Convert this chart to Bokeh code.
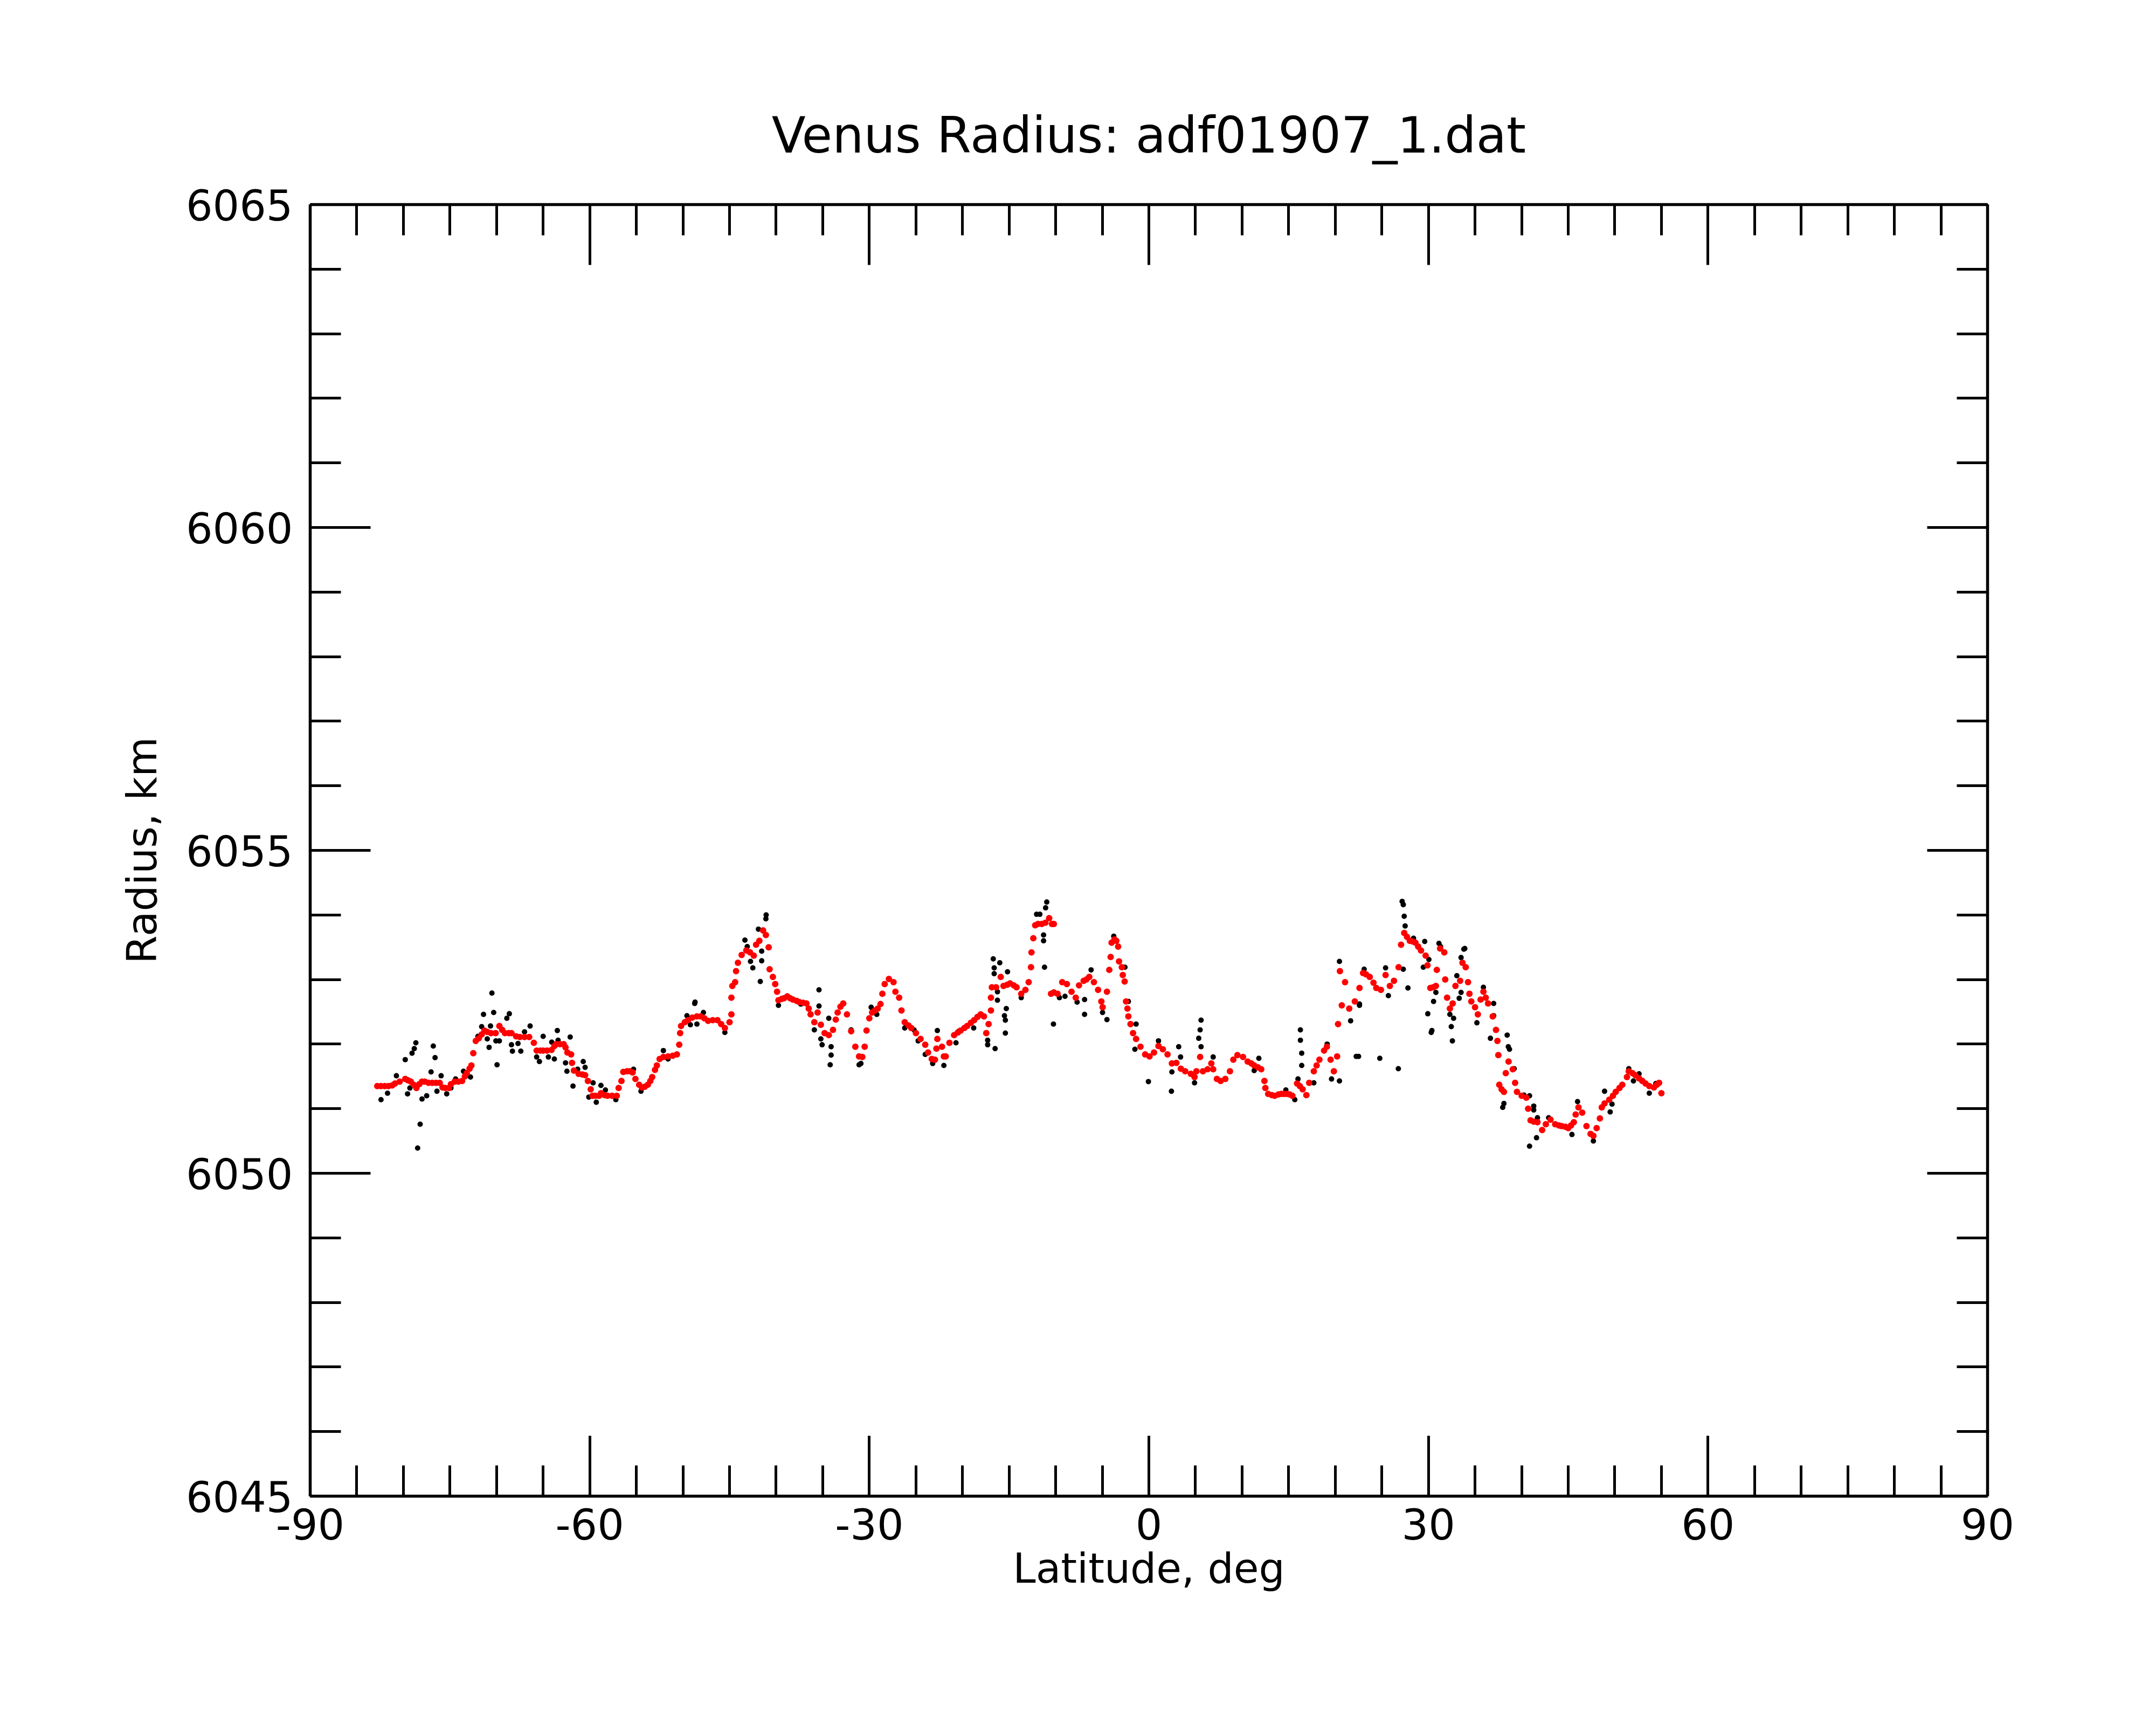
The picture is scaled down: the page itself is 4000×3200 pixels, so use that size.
from bokeh.plotting import figure
from bokeh.models import LinearAxis, Range1d, FixedTicker, PrintfTickFormatter, CustomJSTickFormatter, ColumnDataSource
from bokeh.embed import file_html
from bokeh.resources import INLINE

# ---- data ----
title_text = "Venus Radius: adf01907_1.dat"
x_label = "Latitude, deg"
y_label = "Radius, km"
x_major = [-90, -60, -30, 0, 30, 60, 90]
x_minor = list(range(-90, 91, 5))
y_major = [6045, 6050, 6055, 6060, 6065]
y_minor = list(range(6045, 6066))

# smoothed radius (red)
smooth_lat = [
    -82.8, -82.4, -82.0, -81.6, -81.2, -80.9, -80.4, -79.8, -79.5, -79.2,
    -78.9, -78.6, -78.3, -78.0, -77.7, -77.3, -76.9, -76.5, -76.1, -75.8,
    -75.5, -75.1, -74.9, -74.5, -74.1, -73.7, -73.4, -73.2, -72.9, -72.7,
    -72.5, -72.23, -71.9, -71.6, -71.3, -71.0, -70.6, -70.1, -69.7, -69.4,
    -69.1, -68.7, -68.4, -67.9, -67.5, -67.0, -66.5, -66.0, -65.7, -65.3,
    -65.0, -64.6, -64.1, -63.8, -63.6, -63.2, -62.8, -62.6, -62.4, -62.0,
    -61.9, -61.7, -61.2, -60.8, -60.5, -60.2, -59.9, -59.7, -59.4, -59.0,
    -58.8, -58.4, -58.1, -57.6, -57.1, -56.9, -56.6, -56.4, -56.0, -55.7,
    -55.4, -55.1, -54.7, -54.4, -54.1, -53.77, -53.5, -53.3, -53.0, -52.8,
    -52.5, -52.1, -51.6, -51.1, -50.65, -50.4, -50.3, -50.2, -49.8, -49.45,
    -49.0, -48.5, -48.1, -47.7, -47.3, -46.8, -46.3, -45.9, -45.5, -45.0,
    -44.8, -44.8, -44.7, -44.4, -44.3, -44.1, -43.7, -43.2, -42.8, -42.4,
    -42.15, -41.8, -41.4, -41.1, -40.8, -40.7, -40.35, -40.1, -39.9, -39.75,
    -39.4, -39.15, -38.8, -38.5, -38.2, -37.8, -37.5, -37.1, -36.75, -36.5,
    -36.3, -35.9, -35.55, -35.2, -34.8, -34.35, -33.9, -33.6, -33.4, -33.1,
    -32.8, -32.4, -31.95, -31.5, -31.1, -30.75, -30.5, -30.3, -30.0, -29.7,
    -29.4, -29.1, -28.8, -28.6, -28.35, -27.9, -27.4, -27.2, -26.8, -26.55,
    -26.2, -25.8, -25.5, -25.0, -24.5, -24.0, -23.7, -23.3, -22.96, -22.8,
    -22.7, -22.2, -22.0, -21.8, -21.4, -20.9, -20.5, -20.2, -19.8, -19.5,
    -19.1, -18.75, -18.4, -18.05, -17.7, -17.45, -17.2, -16.95, -16.95, -16.85,
    -16.4, -15.9, -15.6, -15.2, -14.9, -14.5, -14.2, -13.7, -13.25, -12.9,
    -12.65, -12.6, -12.4, -12.2, -11.9, -11.5, -11.1, -10.7, -10.4, -10.2,
    -10.5, -10.2, -9.8, -9.3, -8.8, -8.3, -7.85, -7.5, -7.0, -6.7,
    -6.4, -5.9, -5.45, -5.1, -4.96, -4.5, -4.25, -4.1, -4.0, -3.7,
    -3.5, -3.3, -3.2, -2.9, -2.8, -2.6, -2.45, -2.3, -2.2, -1.97,
    -1.7, -1.37, -0.9, -0.4, 0.07, 0.55, 1.03, 1.5, 2.0, 2.47,
    2.95, 3.43, 3.9, 4.5, 4.9, 5.1, 5.5, 5.8, 6.3, 6.7,
    6.9, 7.3, 7.7, 8.2, 8.7, 9.06, 9.5, 10.1, 10.6, 11.0,
    11.3, 11.7, 12.06, 12.4, 12.5, 12.8, 13.2, 13.5, 13.9, 14.2,
    14.5, 14.8, 15.1, 15.4, 15.9, 16.2, 16.5, 16.9, 17.2, 17.7,
    18.0, 18.3, 18.8, 19.1, 19.5, 19.85, 20.2, 20.3, 20.5, 20.7,
    21.05, 21.5, 22.1, 22.6, 22.98, 23.3, 23.7, 24.1, 24.4, 24.9,
    25.4, 25.86, 26.3, 26.8, 27.06, 27.4, 27.7, 28.0, 28.3, 28.6,
    28.9, 29.2, 29.7, 29.9, 30.2, 30.5, 30.8, 30.9, 31.25, 31.7,
    31.8, 32.0, 32.3, 32.6, 32.9, 33.4, 33.65, 34.0, 34.25, 34.4,
    34.6, 35.0, 35.3, 35.6, 35.9, 36.15, 36.4, 36.9, 37.25, 37.4,
    37.5, 37.6, 37.85, 38.1, 38.3, 38.6, 39.05, 39.3, 39.5, 40.0,
    40.5, 40.7, 40.96, 41.3, 41.7, 42.2, 42.6, 43.1, 43.6, 44.0,
    44.3, 44.7, 45.0, 45.3, 45.6, 45.8, 46.1, 46.5, 46.96, 47.4,
    47.7, 48.05, 48.4, 48.6, 48.9, 49.4, 49.8, 50.1, 50.5, 50.8,
    51.3, 51.5, 51.9, 52.2, 52.6, 52.95, 53.3, 53.7, 54.2, 54.5,
    54.75, 55.0,
]
smooth_r = [
    6051.35, 6051.35, 6051.35, 6051.35, 6051.36, 6051.39, 6051.42, 6051.46, 6051.44, 6051.42,
    6051.37, 6051.32, 6051.38, 6051.42, 6051.42, 6051.40, 6051.40, 6051.40, 6051.40, 6051.33,
    6051.32, 6051.32, 6051.38, 6051.42, 6051.42, 6051.43, 6051.50, 6051.55, 6051.62, 6051.67,
    6051.86, 6052.05, 6052.09, 6052.15, 6052.21, 6052.19, 6052.17, 6052.17, 6052.28, 6052.22,
    6052.17, 6052.17, 6052.17, 6052.12, 6052.11, 6052.11, 6052.11, 6052.02, 6051.90, 6051.90,
    6051.90, 6051.90, 6051.91, 6051.97, 6052.00, 6052.00, 6052.00, 6051.95, 6051.87, 6051.84,
    6051.71, 6051.59, 6051.54, 6051.53, 6051.52, 6051.43, 6051.30, 6051.20, 6051.20, 6051.20,
    6051.24, 6051.21, 6051.20, 6051.20, 6051.20, 6051.32, 6051.43, 6051.57, 6051.58, 6051.58,
    6051.56, 6051.46, 6051.37, 6051.33, 6051.34, 6051.37, 6051.43, 6051.49, 6051.60, 6051.67,
    6051.77, 6051.80, 6051.81, 6051.82, 6051.84, 6051.99, 6052.17, 6052.28, 6052.34, 6052.37,
    6052.41, 6052.43, 6052.43, 6052.40, 6052.36, 6052.37, 6052.37, 6052.31, 6052.25, 6052.34,
    6052.46, 6052.72, 6052.90, 6052.96, 6053.13, 6053.26, 6053.38, 6053.45, 6053.42, 6053.37,
    6053.54, 6053.60, 6053.76, 6053.69, 6053.50, 6053.16, 6053.04, 6052.93, 6052.81, 6052.68,
    6052.70, 6052.71, 6052.74, 6052.71, 6052.69, 6052.67, 6052.65, 6052.64, 6052.63, 6052.55,
    6052.46, 6052.34, 6052.49, 6052.30, 6052.17, 6052.14, 6052.22, 6052.38, 6052.49, 6052.58,
    6052.63, 6052.46, 6052.20, 6051.96, 6051.81, 6051.80, 6051.96, 6052.21, 6052.40, 6052.49,
    6052.52, 6052.55, 6052.62, 6052.78, 6052.93, 6053.01, 6052.96, 6052.81, 6052.72, 6052.52,
    6052.34, 6052.29, 6052.25, 6052.17, 6052.08, 6051.99, 6051.87, 6051.77, 6051.76, 6051.93,
    6052.08, 6051.96, 6051.81, 6051.81, 6052.02, 6052.14, 6052.18, 6052.21, 6052.25, 6052.28,
    6052.33, 6052.37, 6052.42, 6052.46, 6052.43, 6052.17, 6052.31, 6052.52, 6052.72, 6052.88,
    6052.88, 6053.04, 6052.90, 6052.92, 6052.94, 6052.91, 6052.88, 6052.78, 6052.84, 6052.96,
    6053.19, 6053.42, 6053.64, 6053.84, 6053.86, 6053.86, 6053.88, 6053.95, 6053.86, 6053.86,
    6052.78, 6052.80, 6052.78, 6052.96, 6052.93, 6052.81, 6052.72, 6052.91, 6052.98, 6053.00,
    6053.04, 6052.96, 6052.84, 6052.66, 6052.57, 6052.81, 6053.15, 6053.35, 6053.57, 6053.62,
    6053.60, 6053.51, 6053.28, 6053.19, 6053.07, 6052.97, 6052.66, 6052.55, 6052.43, 6052.31,
    6052.17, 6052.08, 6051.96, 6051.84, 6051.81, 6051.87, 6051.97, 6051.92, 6051.84, 6051.70,
    6051.71, 6051.62, 6051.58, 6051.54, 6051.49, 6051.58, 6051.80, 6051.58, 6051.61, 6051.70,
    6051.61, 6051.46, 6051.43, 6051.46, 6051.58, 6051.76, 6051.83, 6051.80, 6051.73, 6051.70,
    6051.67, 6051.64, 6051.61, 6051.43, 6051.32, 6051.23, 6051.21, 6051.20, 6051.22, 6051.23,
    6051.23, 6051.23, 6051.22, 6051.20, 6051.39, 6051.35, 6051.30, 6051.21, 6051.40, 6051.58,
    6051.67, 6051.76, 6051.90, 6051.96, 6051.76, 6051.58, 6051.81, 6052.31, 6053.13, 6052.60,
    6052.96, 6052.55, 6052.66, 6052.87, 6053.10, 6053.08, 6053.04, 6052.95, 6052.87, 6052.84,
    6053.07, 6052.90, 6052.98, 6053.19, 6053.54, 6053.72, 6053.66, 6053.60, 6053.59, 6053.57,
    6053.51, 6053.45, 6053.37, 6053.22, 6052.87, 6052.88, 6052.90, 6053.15, 6053.48, 6053.42,
    6053.00, 6052.72, 6052.55, 6052.63, 6052.90, 6052.98, 6053.26, 6053.19, 6052.96, 6052.78,
    6052.66, 6052.57, 6052.46, 6052.69, 6052.81, 6052.72, 6052.63, 6052.43, 6052.22, 6052.05,
    6051.83, 6051.37, 6051.30, 6051.26, 6051.55, 6051.73, 6051.61, 6051.40, 6051.26, 6051.20,
    6051.17, 6051.00, 6050.82, 6050.80, 6050.79, 6050.67, 6050.76, 6050.83, 6050.76, 6050.74,
    6050.73, 6050.72, 6050.70, 6050.74, 6050.79, 6050.91, 6051.02, 6050.94, 6050.73, 6050.61,
    6050.58, 6050.70, 6050.85, 6051.02, 6051.08, 6051.14, 6051.20, 6051.26, 6051.32, 6051.37,
    6051.49, 6051.58, 6051.55, 6051.52, 6051.47, 6051.43, 6051.39, 6051.35, 6051.33, 6051.37,
    6051.40, 6051.24,
]

# raw radius samples that stand apart from the smoothed curve (black)
raw_lat = [
    -82.4, -81.7, -80.75, -79.8, -79.07, -78.83, -78.66, -79.55, -79.3, -78.2,
    -78.47, -78.0, -77.5, -77.03, -76.79, -76.6, -76.4, -75.95, -75.35, -74.9,
    -74.4, -73.55, -72.8, -72.0, -71.6, -71.4, -71.0, -70.8, -70.65, -70.5,
    -70.31, -70.07, -69.95, -69.7, -68.9, -68.63, -68.4, -68.3, -67.7, -67.4,
    -67.0, -66.4, -65.7, -65.4, -65.0, -64.44, -64.08, -63.8, -63.48, -63.4,
    -62.6, -62.45, -62.1, -61.8, -61.3, -60.7, -60.5, -60.1, -59.64, -59.3,
    -58.8, -58.32, -57.2, -55.3, -54.5, -52.1, -51.6, -49.57, -49.2, -48.7,
    -48.5, -48.74, -47.8, -45.5, -43.35, -43.1, -42.75, -42.5, -41.9, -41.55,
    -41.55, -41.7, -41.1, -41.07, -39.75, -37.35, -35.9, -35.4, -35.4, -35.2,
    -35.07, -34.35, -34.1, -34.1, -34.2, -31.95, -31.1, -30.9, -29.8, -29.2,
    -26.2, -25.2, -24.76, -24.0, -23.2, -22.7, -22.0, -20.7, -20.4, -18.8,
    -17.3, -17.3, -16.7, -16.6, -16.6, -16.25, -16.25, -16.5, -16.0, -15.5,
    -15.4, -15.4, -15.17, -15.3, -13.7, -12.05, -11.7, -10.96, -11.08, -11.3,
    -11.3, -11.2, -10.24, -9.6, -9.0, -7.7, -6.9, -6.9, -6.2, -4.97,
    -4.5, -3.77, -2.57, -2.2, -1.37, -1.5, -0.05, 1.03, 2.47, 2.42,
    3.2, 3.4, 4.9, 5.35, 5.5, 5.6, 5.6, 6.9, 11.3, 11.8,
    14.7, 15.66, 16.0, 16.26, 16.26, 16.4, 16.4, 17.7, 19.13, 19.6,
    20.45, 20.45, 21.65, 22.25, 22.6, 23.1, 22.5, 22.6, 24.78, 25.7,
    25.4, 26.77, 27.18, 27.3, 27.4, 27.5, 27.3, 27.8, 28.4, 29.6,
    29.45, 30.05, 30.8, 30.55, 29.93, 30.37, 30.3, 31.13, 31.3, 32.45,
    32.57, 32.7, 32.3, 33.05, 33.5, 33.3, 33.8, 33.9, 33.5, 35.2,
    35.9, 36.65, 37.0, 37.0, 38.45, 38.57, 38.7, 38.1, 37.97, 39.2,
    40.25, 40.85, 41.3, 41.3, 40.85, 41.6, 41.7, 42.9, 45.4, 46.0,
    47.7, 48.9, 49.5, 49.7, 51.5, 52.0, 52.6, 53.7, 54.4,
]
raw_r = [
    6051.14, 6051.24, 6051.51, 6051.76, 6051.86, 6051.93, 6052.02, 6051.23, 6051.32, 6050.76,
    6050.39, 6051.15, 6051.20, 6051.57, 6051.97, 6051.79, 6051.27, 6051.51, 6051.23, 6051.32,
    6051.46, 6051.58, 6051.49, 6052.12, 6052.27, 6052.46, 6052.08, 6051.95, 6052.28, 6052.79,
    6052.49, 6052.05, 6051.68, 6052.05, 6052.40, 6052.47, 6051.99, 6051.89, 6052.01, 6051.89,
    6052.19, 6052.28, 6051.80, 6051.73, 6052.12, 6051.80, 6052.03, 6051.77, 6052.21, 6052.06,
    6051.71, 6051.58, 6052.11, 6051.35, 6051.61, 6051.73, 6051.64, 6051.18, 6051.40, 6051.10,
    6051.36, 6051.29, 6051.14, 6051.61, 6051.27, 6051.90, 6051.77, 6052.44, 6052.30, 6052.65,
    6052.31, 6052.63, 6052.49, 6052.18, 6053.61, 6053.51, 6053.28, 6053.18, 6053.78, 6053.44,
    6053.29, 6052.97, 6053.94, 6054.00, 6052.60, 6052.62, 6052.22, 6052.84, 6052.59, 6052.08,
    6051.99, 6052.40, 6051.96, 6051.83, 6051.68, 6052.22, 6051.68, 6051.70, 6052.57, 6052.46,
    6052.25, 6052.22, 6052.05, 6051.84, 6051.70, 6052.21, 6051.67, 6052.02, 6052.20, 6052.25,
    6052.06, 6051.99, 6053.32, 6053.18, 6053.09, 6052.81, 6052.68, 6051.93, 6053.26, 6052.44,
    6052.37, 6052.17, 6053.12, 6052.55, 6052.72, 6054.01, 6054.01, 6054.20, 6054.11, 6053.69,
    6053.60, 6053.19, 6052.31, 6052.72, 6052.74, 6052.65, 6052.69, 6052.46, 6053.15, 6052.49,
    6052.38, 6053.67, 6053.19, 6052.66, 6052.31, 6051.92, 6051.42, 6052.05, 6051.57, 6051.27,
    6051.96, 6051.80, 6051.40, 6052.09, 6052.22, 6052.37, 6051.96, 6051.80, 6051.59, 6051.78,
    6051.29, 6051.14, 6051.46, 6052.22, 6052.06, 6051.86, 6051.67, 6051.40, 6052.00, 6051.46,
    6051.43, 6053.28, 6052.36, 6051.81, 6052.60, 6053.16, 6051.81, 6052.62, 6051.78, 6052.75,
    6053.18, 6051.62, 6054.21, 6054.16, 6053.98, 6053.83, 6053.16, 6052.87, 6053.64, 6053.59,
    6053.19, 6053.31, 6052.80, 6052.66, 6052.47, 6052.21, 6052.18, 6053.56, 6053.51, 6052.27,
    6052.05, 6052.40, 6052.46, 6053.06, 6052.80, 6052.71, 6053.47, 6053.48, 6053.34, 6052.33,
    6052.88, 6052.09, 6052.63, 6052.44, 6052.14, 6051.96, 6051.92, 6051.08, 6051.02, 6051.62,
    6051.21, 6051.20, 6051.04, 6050.98, 6050.42, 6050.55, 6050.86, 6050.86, 6050.60, 6051.11,
    6050.50, 6051.27, 6050.95, 6051.07, 6051.62, 6051.43, 6051.54, 6051.24, 6051.39,
]

FONT = "DejaVu Sans"
TICK_SIZE = "78px"
AXIS_LABEL_SIZE = "76px"

p = figure(
    width=3984, height=3184,
    output_backend="svg", toolbar_location=None,
    x_range=Range1d(-90, 90), y_range=Range1d(6045, 6065),
    min_border_left=575, min_border_right=297,
    min_border_top=379, min_border_bottom=409,
    title=title_text,
)
p.background_fill_color = "white"
p.border_fill_color = "white"
p.outline_line_color = None
p.xgrid.visible = False
p.ygrid.visible = False

p.title.align = "center"
p.title.text_font = FONT
p.title.text_font_size = "92px"
p.title.text_font_style = "normal"
p.title.text_color = "black"
p.title.standoff = 150


def style_axis(ax, major, minor, show_labels):
    ax.ticker = FixedTicker(ticks=major, minor_ticks=minor)
    ax.axis_line_color = "black"
    ax.axis_line_width = 5.5
    ax.major_tick_in = 112
    ax.major_tick_out = 0
    ax.minor_tick_in = 57
    ax.minor_tick_out = 0
    ax.major_tick_line_color = "black"
    ax.minor_tick_line_color = "black"
    ax.major_tick_line_width = 5
    ax.minor_tick_line_width = 5
    ax.major_label_text_font = FONT
    ax.major_label_text_font_size = TICK_SIZE
    ax.major_label_text_color = "black"
    ax.axis_label_text_font = FONT
    ax.axis_label_text_font_size = AXIS_LABEL_SIZE
    ax.axis_label_text_font_style = "normal"
    ax.axis_label_text_color = "black"
    if show_labels:
        ax.formatter = PrintfTickFormatter(format="%d")
    else:
        ax.formatter = CustomJSTickFormatter(code="return ''")
        ax.major_label_standoff = 0


xb = p.xaxis[0]
style_axis(xb, x_major, x_minor, True)
xb.axis_label = x_label
xb.major_label_standoff = 22
xb.axis_label_standoff = 6

yl = p.yaxis[0]
style_axis(yl, y_major, y_minor, True)
yl.axis_label = y_label
yl.major_label_standoff = 32
yl.axis_label_standoff = 34

xt = LinearAxis()
style_axis(xt, x_major, x_minor, False)
p.add_layout(xt, "above")

yr = LinearAxis()
style_axis(yr, y_major, y_minor, False)
p.add_layout(yr, "right")

raw_src = ColumnDataSource(data=dict(lat=raw_lat, r=raw_r))
smooth_src = ColumnDataSource(data=dict(lat=smooth_lat, r=smooth_r))

p.scatter("lat", "r", source=raw_src, size=10, fill_color="black", line_color=None)
p.scatter("lat", "r", source=smooth_src, size=12, fill_color="red", line_color=None)

open("out.html", "w").write(file_html(p, INLINE))
